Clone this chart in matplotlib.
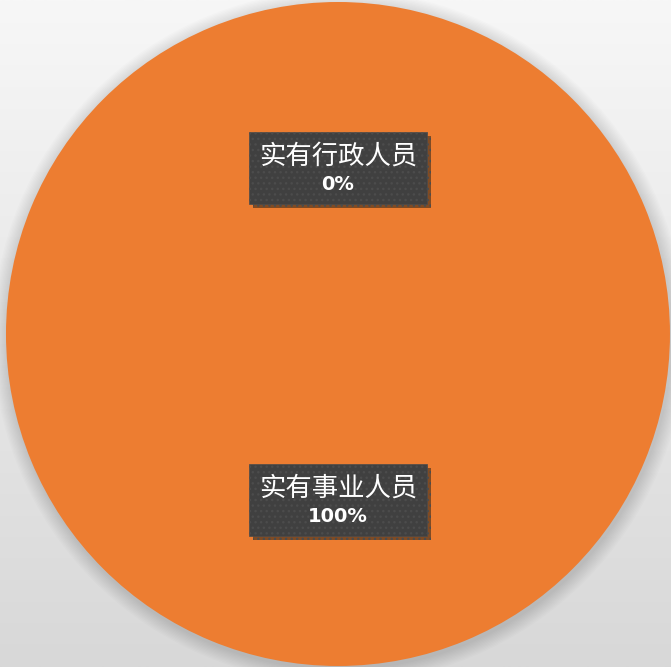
"""Pie chart of staffing categories with boxed data labels."""

import matplotlib

matplotlib.use("Agg")

import matplotlib.pyplot as plt
import matplotlib.patheffects as pe
import numpy as np
from matplotlib.offsetbox import AnnotationBbox, TextArea, VPacker
from matplotlib.patches import Circle

categories = ["实有行政人员", "实有事业人员"]
values = [0, 100]
slice_colors = ["#4472C4", "#ED7D31"]

plt.rcParams["font.family"] = ["Noto Sans CJK SC", "DejaVu Sans"]

fig = plt.figure(figsize=(6.71, 6.67), dpi=100)

# light grey vertical gradient behind everything
bg_ax = fig.add_axes([0, 0, 1, 1])
grad = np.linspace(0, 1, 256).reshape(-1, 1)
bg_ax.imshow(grad, aspect="auto", cmap=matplotlib.colors.LinearSegmentedColormap.from_list(
    "bg", ["#f7f7f7", "#d8d8d8"]), extent=[0, 1, 0, 1])
bg_ax.set_axis_off()

ax = fig.add_axes([0.0089, 0.0015, 0.9896, 0.9955])
ax.set_axis_off()

# soft shadow under the pie
for k in range(1, 12):
    ax.add_patch(Circle((0.004, -0.008), 1 + k * 0.004, color="black",
                        alpha=0.012, lw=0, clip_on=False, zorder=0))

wedges, _ = ax.pie(values, colors=slice_colors, startangle=90, counterclock=False,
                   radius=1, wedgeprops=dict(linewidth=0), frame=False)
for w in wedges:
    w.set_zorder(1)
ax.set_xlim(-1, 1)
ax.set_ylim(-1, 1)
ax.set_aspect("equal")

total = sum(values)
for wedge, name, val in zip(wedges, categories, values):
    theta = np.deg2rad((wedge.theta1 + wedge.theta2) / 2)
    x, y = 0.5 * np.cos(theta), 0.5 * np.sin(theta)
    name_area = TextArea(name, textprops=dict(color="white", fontsize=19,
                                               family=["Noto Sans CJK SC", "DejaVu Sans"]))
    pct_area = TextArea(f"{val / total * 100:.0f}%",
                        textprops=dict(color="white", fontsize=14, fontweight="bold",
                                       family="DejaVu Sans"))
    pack = VPacker(children=[name_area, pct_area], align="center", pad=0, sep=4)
    ab = AnnotationBbox(pack, (x, y), xycoords="data", frameon=True, pad=0.72,
                        bboxprops=dict(facecolor="#404040", edgecolor="#4c4c4c",
                                       hatch="...", linewidth=0.5))
    ab.set_zorder(5)
    ax.add_artist(ab)
    ab.patch.set_path_effects([
        pe.SimplePatchShadow(offset=(3, -3), shadow_rgbFace="#3a2a1a", alpha=0.6),
        pe.Normal(),
    ])

fig.savefig("out.png", dpi=100)
